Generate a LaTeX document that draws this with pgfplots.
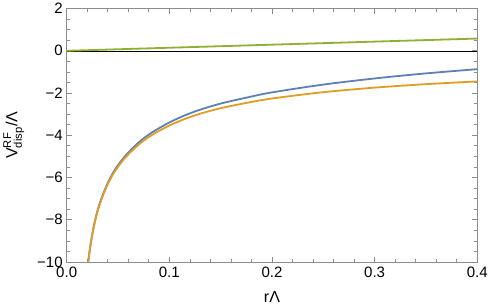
\documentclass[border=0pt]{standalone}
\usepackage{fontspec}
\setmainfont{Liberation Sans}
\usepackage{amsmath}
\usepackage{pgfplots}
\pgfplotsset{compat=1.18}
\definecolor{mblue}{HTML}{5E81B5}
\definecolor{morange}{HTML}{E19C24}
\definecolor{mgreen}{HTML}{8FB032}
\definecolor{framegray}{HTML}{8C8C8C}
\begin{document}
\begin{tikzpicture}
\begin{axis}[
  scale only axis,
  width=410pt, height=253pt,
  xmin=0, xmax=0.4, ymin=-10, ymax=2,
  xtick={0,0.1,0.2,0.3,0.4},
  xticklabels={0.0,0.1,0.2,0.3,0.4},
  ytick={-10,-8,-6,-4,-2,0,2},
  yticklabels={−10,−8,−6,−4,−2,0,2},
  minor x tick num=4,
  minor y tick num=3,
  tick align=inside,
  major tick length=5pt,
  minor tick length=3pt,
  every tick/.style={framegray, line width=0.6pt},
  axis line style={framegray, line width=0.7pt},
  tick label style={font=\fontsize{15}{17}\selectfont, black},
  xticklabel style={yshift=-1.5pt},
  yticklabel style={xshift=-0.5pt},
  xlabel={rΛ},
  ylabel={V$^{\text{RF}}_{\text{disp}}$/Λ},
  label style={font=\fontsize{16}{19}\selectfont},
  xlabel style={yshift=-7pt},
  ylabel style={yshift=6pt},
  clip=true,
]
\addplot[black, line width=0.5pt] coordinates {(0,0) (0.4,0)};
\addplot[mgreen, line width=1.8pt] coordinates {(0,0) (0.1,0.145) (0.2,0.29) (0.3,0.435) (0.4,0.58)};
\addplot[mblue, line width=1.8pt, smooth] coordinates {
(0.0200,-10.47) (0.0211,-9.97) (0.0225,-9.42) (0.024,-8.95) (0.026,-8.41)
(0.0285,-7.86) (0.0315,-7.33) (0.035,-6.85) (0.04,-6.26) (0.046,-5.71)
(0.053,-5.22) (0.061,-4.77) (0.0725,-4.24) (0.085,-3.81) (0.1,-3.395)
(0.115,-3.06) (0.13,-2.79) (0.15,-2.50) (0.175,-2.22) (0.2,-1.97)
(0.25,-1.60) (0.3,-1.31) (0.35,-1.07) (0.4,-0.87)};
\addplot[morange, line width=1.8pt, smooth] coordinates {
(0.0200,-10.5) (0.0211,-10.0) (0.0225,-9.45) (0.024,-8.98) (0.026,-8.45)
(0.0285,-7.90) (0.0315,-7.38) (0.035,-6.90) (0.04,-6.32) (0.046,-5.78)
(0.053,-5.30) (0.061,-4.86) (0.0725,-4.35) (0.085,-3.93) (0.1,-3.54)
(0.115,-3.23) (0.13,-2.98) (0.15,-2.72) (0.175,-2.47) (0.2,-2.26)
(0.25,-1.96) (0.3,-1.745) (0.35,-1.58) (0.4,-1.45)};
\end{axis}
\end{tikzpicture}
\end{document}
